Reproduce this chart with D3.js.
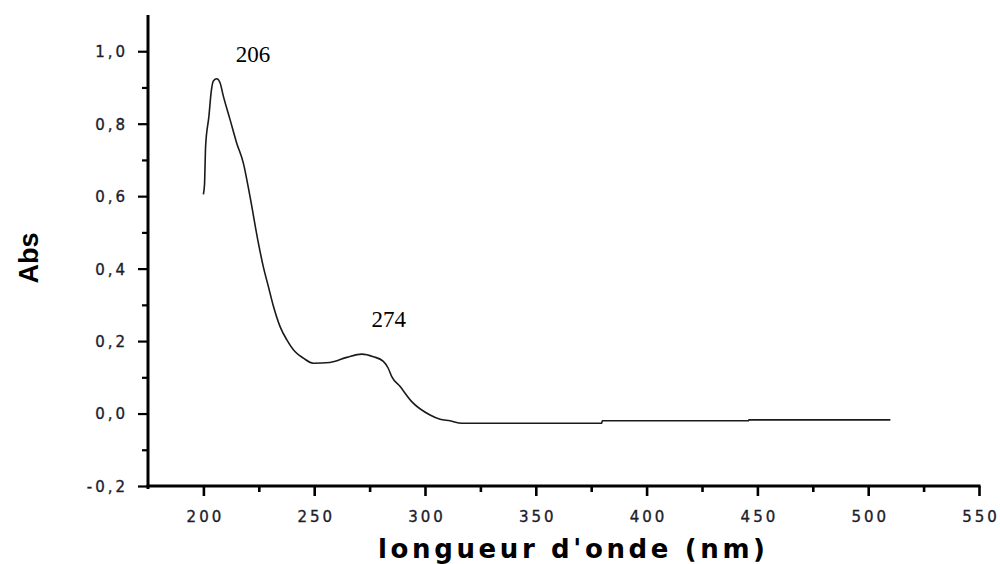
<!DOCTYPE html>
<html>
<head>
<meta charset="utf-8">
<script src="https://cdn.jsdelivr.net/npm/d3@7"></script>
<style>
  html, body { margin: 0; padding: 0; background: #fff; }
  svg { display: block; }
</style>
</head>
<body>
<svg id="chart" width="1000" height="564"></svg>
<script>
// UV-visible absorption spectrum
const wavelength = [200.0, 200.5, 201.0, 202.5, 203.5, 204.5, 206.0, 207.5, 209.0, 212.0,
  215.0, 218.0, 221.0, 224.8, 227.0, 229.3, 231.6, 234.6,
  237.6, 241.3, 245.1, 249.6, 257.1, 264.7, 271.4, 276.7, 281.2, 283.4,
  285.0, 288.7, 294.0, 302.3, 306.8, 311.3, 316.6, 379.7, 380.0, 445.9,
  446.2, 510.0];
const absorbance = [0.605, 0.632, 0.738, 0.821, 0.887, 0.918, 0.924, 0.913, 0.876, 0.812,
  0.747, 0.692, 0.600, 0.471, 0.406, 0.351, 0.296, 0.240,
  0.204, 0.171, 0.153, 0.139, 0.141, 0.155, 0.164, 0.157, 0.144, 0.125,
  0.102, 0.075, 0.033, -0.004, -0.016, -0.020, -0.027, -0.027, -0.020, -0.020,
  -0.0175, -0.0175];

// Absorption maxima annotated on the curve
const peakWavelength = [206, 274];
const peakLabels = ["206", "274"];

const xMajorTicks = [200, 250, 300, 350, 400, 450, 500, 550];
const xMinorTicks = [225, 275, 325, 375, 425, 475, 525];
const yMajorTicks = [-0.2, 0.0, 0.2, 0.4, 0.6, 0.8, 1.0];
const yMinorTicks = [-0.1, 0.1, 0.3, 0.5, 0.7, 0.9];

const xTitle = "longueur d'onde (nm)";
const yTitle = "Abs";

const svg = d3.select("#chart");

const x = d3.scaleLinear().domain([175, 550]).range([148, 979]);
const y = d3.scaleLinear().domain([-0.2, 1.1]).range([486, 15]);

const fmt = v => d3.format(".1f")(v).replace(".", ",").replace("\u2212", "-");

const tickFont = "'DejaVu Sans', Verdana, sans-serif";
const tickColor = "#1c1c2c";

function styleTickText(sel) {
  sel.attr("font-family", tickFont).attr("font-size", 15).attr("fill", tickColor)
    .attr("stroke", tickColor).attr("stroke-width", 0.35)
    .attr("letter-spacing", 3);
}

// Y axis: major ticks with labels, minor ticks without
const yAxisG = svg.append("g").attr("transform", `translate(${x(175)},0)`);
yAxisG.call(d3.axisLeft(y).tickValues(yMajorTicks).tickSize(10).tickPadding(10).tickFormat(fmt));
yAxisG.call(g => g.select(".domain").remove());
yAxisG.selectAll(".tick line").attr("stroke", "#000").attr("stroke-width", 2.2);
yAxisG.selectAll(".tick text").call(styleTickText).attr("dy", "0.36em");

const yMinorG = svg.append("g").attr("transform", `translate(${x(175)},0)`);
yMinorG.call(d3.axisLeft(y).tickValues(yMinorTicks).tickSize(6).tickFormat(""));
yMinorG.call(g => g.select(".domain").remove());
yMinorG.selectAll(".tick line").attr("stroke", "#000").attr("stroke-width", 2.2);

// X axis
const xAxisG = svg.append("g").attr("transform", `translate(0,${y(-0.2)})`);
xAxisG.call(d3.axisBottom(x).tickValues(xMajorTicks).tickSize(10).tickPadding(15).tickFormat(d3.format("d")));
xAxisG.call(g => g.select(".domain").remove());
xAxisG.selectAll(".tick line").attr("stroke", "#000").attr("stroke-width", 2.6);
xAxisG.selectAll(".tick text").call(styleTickText).attr("dx", 1.5);

const xMinorG = svg.append("g").attr("transform", `translate(0,${y(-0.2)})`);
xMinorG.call(d3.axisBottom(x).tickValues(xMinorTicks).tickSize(6).tickFormat(""));
xMinorG.call(g => g.select(".domain").remove());
xMinorG.selectAll(".tick line").attr("stroke", "#000").attr("stroke-width", 2.6);

// Axis lines
svg.append("line")
  .attr("x1", x(175)).attr("x2", x(175))
  .attr("y1", y(1.1)).attr("y2", y(-0.2) + 3)
  .attr("stroke", "#000").attr("stroke-width", 3);
svg.append("line")
  .attr("x1", x(175) - 1.5).attr("x2", x(550) + 1.5)
  .attr("y1", y(-0.2)).attr("y2", y(-0.2))
  .attr("stroke", "#000").attr("stroke-width", 3);

// Spectrum
const pts = wavelength.map((w, i) => [w, absorbance[i]]);
svg.append("path")
  .datum(pts)
  .attr("fill", "none")
  .attr("stroke", "#1a1a1a")
  .attr("stroke-width", 1.6)
  .attr("stroke-linejoin", "round")
  .attr("d", d3.line().x(d => x(d[0])).y(d => y(d[1])).curve(d3.curveMonotoneX));

// Peak annotations
const absAt = w => {
  const i = wavelength.findIndex(v => v >= w);
  return absorbance[i];
};
const peakOffsets = [[19, -17], [4, -30]];
svg.append("g").selectAll("text")
  .data(peakWavelength)
  .join("text")
  .attr("x", (w, i) => x(w) + peakOffsets[i][0])
  .attr("y", (w, i) => y(absAt(w)) + peakOffsets[i][1])
  .attr("font-family", "'Liberation Serif', 'Times New Roman', serif")
  .attr("font-size", 23)
  .attr("fill", "#000")
  .text((w, i) => peakLabels[i]);

// Axis titles
svg.append("text")
  .attr("x", 378).attr("y", 558)
  .attr("textLength", 387)
  .attr("lengthAdjust", "spacing")
  .attr("font-family", "'DejaVu Sans', Verdana, sans-serif")
  .attr("font-weight", "bold")
  .attr("font-size", 26)
  .attr("fill", "#000")
  .text(xTitle);

svg.append("text")
  .attr("transform", "translate(38,258) rotate(-90)")
  .attr("text-anchor", "middle")
  .attr("font-family", "'Liberation Sans', Arial, sans-serif")
  .attr("font-weight", "bold")
  .attr("font-size", 27)
  .attr("fill", "#000")
  .text(yTitle);
</script>
</body>
</html>
